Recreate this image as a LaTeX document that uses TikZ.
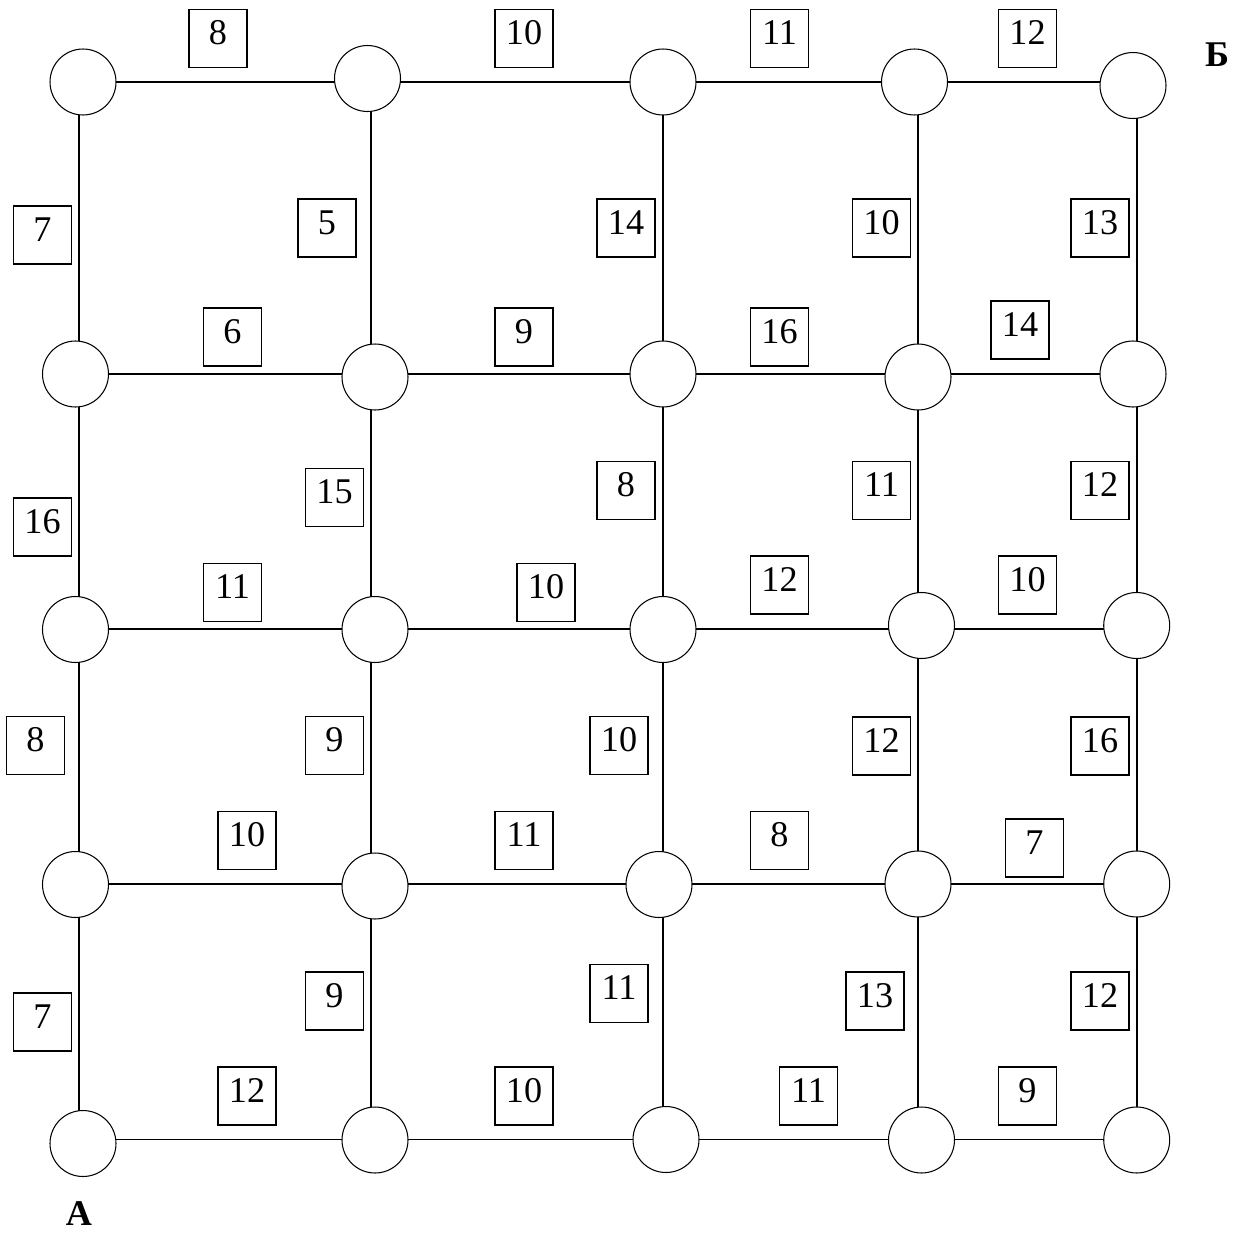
\documentclass[tikz,border=0pt]{standalone}
\usepackage{fontspec}
\setmainfont{Liberation Serif}
\usetikzlibrary{backgrounds}

\begin{document}
\begin{tikzpicture}[
    x=0.02cm, y=-0.02cm,
    vertex/.style={circle, draw, fill=white, line width=0.6pt, minimum size=1.32cm, inner sep=0pt},
    weight/.style={rectangle, draw, line width=0.6pt, minimum width=1.16cm, inner sep=0pt,
                   text height=0.70cm, text depth=0.46cm, font=\fontsize{20.6}{24}\selectfont},
    endlabel/.style={inner sep=0pt, font=\fontsize{20.6}{24}\selectfont\bfseries},
    link/.style={line width=0.6pt},
  ]
    \useasboundingbox (0,0) rectangle (1248,1234);

    % axes of the grid lines
    \coordinate (c1) at (79,0);
    \coordinate (c2) at (371,0);
    \coordinate (c3) at (663,0);
    \coordinate (c4) at (918,0);
    \coordinate (c5) at (1137,0);
    \coordinate (r1) at (0,82);
    \coordinate (r2) at (0,374);
    \coordinate (r3) at (0,629);
    \coordinate (r4) at (0,884);
    \coordinate (r5) at (0,1139.5);

    % vertices, row by row from the top
    \node[vertex] (v11) at (83,82) {};
    \node[vertex] (v12) at (367.5,78.5) {};
    \node[vertex] (v13) at (663,82) {};
    \node[vertex] (v14) at (914.5,82) {};
    \node[vertex] (v15) at (1133,85.5) {};

    \node[vertex] (v21) at (75.5,374) {};
    \node[vertex] (v22) at (375,377) {};
    \node[vertex] (v23) at (663,374) {};
    \node[vertex] (v24) at (918,377) {};
    \node[vertex] (v25) at (1133,374) {};

    \node[vertex] (v31) at (75.5,629.5) {};
    \node[vertex] (v32) at (375,629.5) {};
    \node[vertex] (v33) at (663,629.5) {};
    \node[vertex] (v34) at (921.5,625.5) {};
    \node[vertex] (v35) at (1136.7,625.5) {};

    \node[vertex] (v41) at (75.5,884.5) {};
    \node[vertex] (v42) at (375,886) {};
    \node[vertex] (v43) at (659,884.5) {};
    \node[vertex] (v44) at (918,884) {};
    \node[vertex] (v45) at (1136.7,884) {};

    \node[vertex] (v51) at (83,1143.5) {};
    \node[vertex] (v52) at (375,1140) {};
    \node[vertex] (v53) at (666,1139.5) {};
    \node[vertex] (v54) at (921.5,1140) {};
    \node[vertex] (v55) at (1136.7,1140) {};

    \begin{scope}[on background layer]
      % horizontal edges
      \draw[link] (v11 |- r1) -- (v12 |- r1);
      \draw[link] (v12 |- r1) -- (v13 |- r1);
      \draw[link] (v13 |- r1) -- (v14 |- r1);
      \draw[link] (v14 |- r1) -- (v15 |- r1);
      \draw[link] (v21 |- r2) -- (v22 |- r2);
      \draw[link] (v22 |- r2) -- (v23 |- r2);
      \draw[link] (v23 |- r2) -- (v24 |- r2);
      \draw[link] (v24 |- r2) -- (v25 |- r2);
      \draw[link] (v31 |- r3) -- (v32 |- r3);
      \draw[link] (v32 |- r3) -- (v33 |- r3);
      \draw[link] (v33 |- r3) -- (v34 |- r3);
      \draw[link] (v34 |- r3) -- (v35 |- r3);
      \draw[link] (v41 |- r4) -- (v42 |- r4);
      \draw[link] (v42 |- r4) -- (v43 |- r4);
      \draw[link] (v43 |- r4) -- (v44 |- r4);
      \draw[link] (v44 |- r4) -- (v45 |- r4);
      \draw[link] (v51 |- r5) -- (v52 |- r5);
      \draw[link] (v52 |- r5) -- (v53 |- r5);
      \draw[link] (v53 |- r5) -- (v54 |- r5);
      \draw[link] (v54 |- r5) -- (v55 |- r5);

      % vertical edges
      \draw[link] (v11 -| c1) -- (v21 -| c1);
      \draw[link] (v12 -| c2) -- (v22 -| c2);
      \draw[link] (v13 -| c3) -- (v23 -| c3);
      \draw[link] (v14 -| c4) -- (v24 -| c4);
      \draw[link] (v15 -| c5) -- (v25 -| c5);
      \draw[link] (v21 -| c1) -- (v31 -| c1);
      \draw[link] (v22 -| c2) -- (v32 -| c2);
      \draw[link] (v23 -| c3) -- (v33 -| c3);
      \draw[link] (v24 -| c4) -- (v34 -| c4);
      \draw[link] (v25 -| c5) -- (v35 -| c5);
      \draw[link] (v31 -| c1) -- (v41 -| c1);
      \draw[link] (v32 -| c2) -- (v42 -| c2);
      \draw[link] (v33 -| c3) -- (v43 -| c3);
      \draw[link] (v34 -| c4) -- (v44 -| c4);
      \draw[link] (v35 -| c5) -- (v45 -| c5);
      \draw[link] (v41 -| c1) -- (v51 -| c1);
      \draw[link] (v42 -| c2) -- (v52 -| c2);
      \draw[link] (v43 -| c3) -- (v53 -| c3);
      \draw[link] (v44 -| c4) -- (v54 -| c4);
      \draw[link] (v45 -| c5) -- (v55 -| c5);
    \end{scope}

    % weights of horizontal edges
    \node[weight] (h11) at (218,38.5) {8};
    \node[weight] (h12) at (524,38.5) {10};
    \node[weight] (h13) at (779.5,38.5) {11};
    \node[weight] (h14) at (1027.5,38.5) {12};
    \node[weight] (h21) at (232.5,337) {6};
    \node[weight] (h22) at (524,337) {9};
    \node[weight] (h23) at (779.5,337) {16};
    \node[weight] (h24) at (1020,330) {14};
    \node[weight] (h31) at (232.5,592.5) {11};
    \node[weight] (h32) at (546,592.5) {10};
    \node[weight] (h33) at (779.5,585) {12};
    \node[weight] (h34) at (1027.5,585) {10};
    \node[weight] (h41) at (247,840.5) {10};
    \node[weight] (h42) at (524,840.5) {11};
    \node[weight] (h43) at (779.5,840.5) {8};
    \node[weight] (h44) at (1034.5,848) {7};
    \node[weight] (h51) at (247,1096) {12};
    \node[weight] (h52) at (524,1096) {10};
    \node[weight] (h53) at (808.5,1096) {11};
    \node[weight] (h54) at (1027.5,1096) {9};

    % weights of vertical edges
    \node[weight] (u11) at (42.5,235) {7};
    \node[weight] (u12) at (327,228) {5};
    \node[weight] (u13) at (626,228) {14};
    \node[weight] (u14) at (881.5,228) {10};
    \node[weight] (u15) at (1100,228) {13};
    \node[weight] (u21) at (42.5,527) {16};
    \node[weight] (u22) at (334.5,497.5) {15};
    \node[weight] (u23) at (626,490.5) {8};
    \node[weight] (u24) at (881.5,490.5) {11};
    \node[weight] (u25) at (1100,490.5) {12};
    \node[weight] (u31) at (35.5,745.5) {8};
    \node[weight] (u32) at (334.5,745.5) {9};
    \node[weight] (u33) at (619,745.5) {10};
    \node[weight] (u34) at (881.5,746) {12};
    \node[weight] (u35) at (1100,746) {16};
    \node[weight] (u41) at (42.5,1022) {7};
    \node[weight] (u42) at (334.5,1001) {9};
    \node[weight] (u43) at (619,993.5) {11};
    \node[weight] (u44) at (875,1001) {13};
    \node[weight] (u45) at (1100,1001) {12};

    % start and finish
    \node[endlabel] (finish) at (1217,55) {Б};
    \node[endlabel] (start) at (79,1214) {А};
  \end{tikzpicture}
\end{document}
